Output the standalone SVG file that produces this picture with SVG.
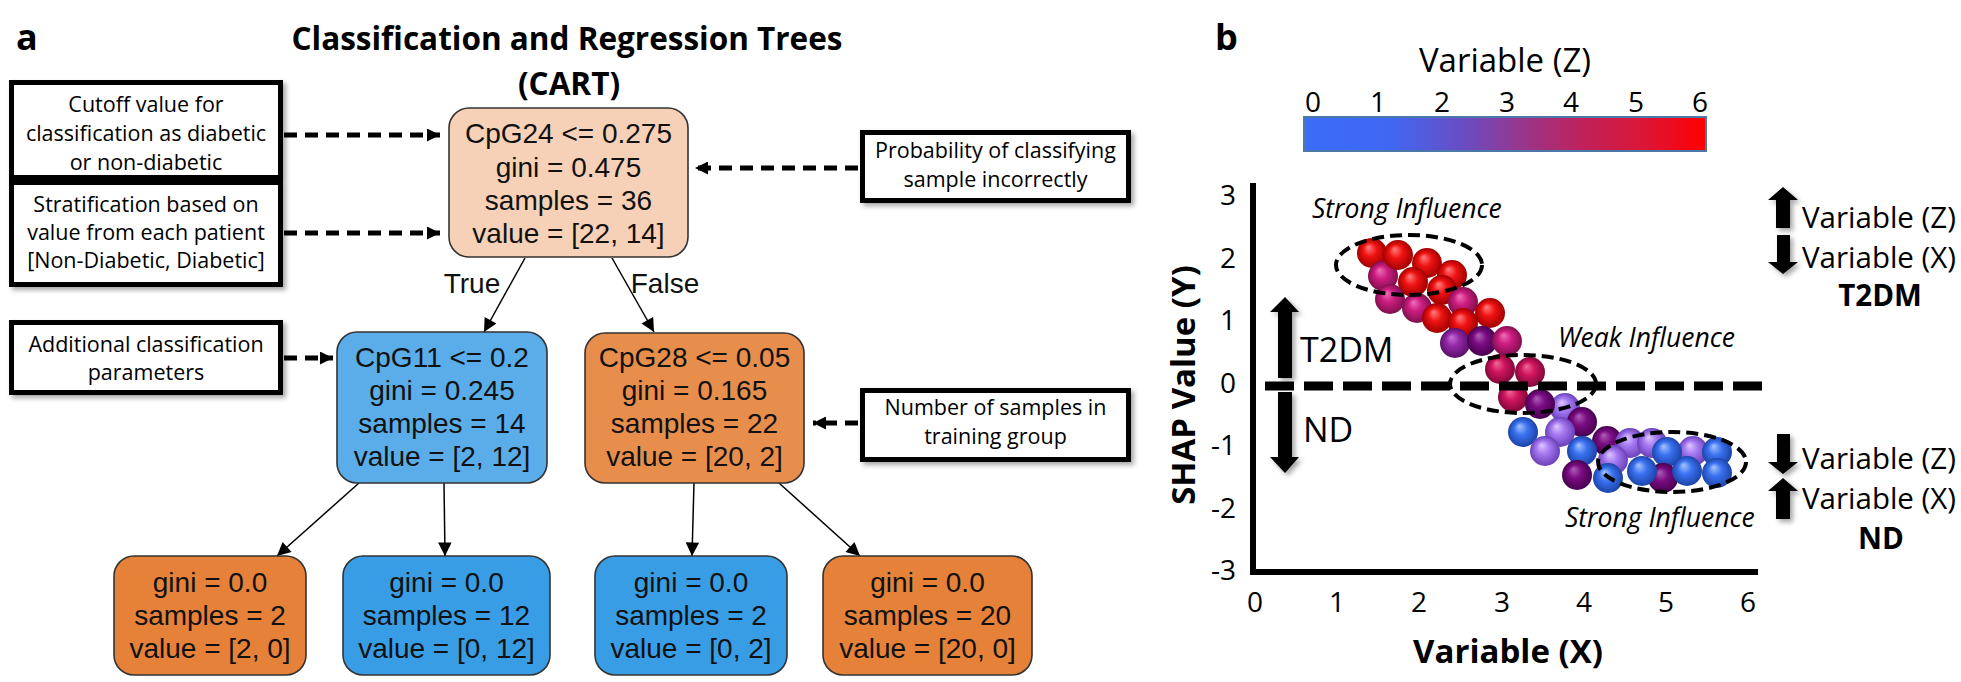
<svg xmlns="http://www.w3.org/2000/svg" width="1961" height="682" viewBox="0 0 1961 682">
<style>
.tn{font-family:"Liberation Sans",Arial,sans-serif;font-size:28px;fill:#111;text-anchor:middle}
.node{stroke:#333;stroke-width:1.6}
.cb{fill:#fff;stroke:#000;stroke-width:5}
.ct{font-family:"Open Sans","Noto Sans",sans-serif;font-size:21.5px;fill:#000;text-anchor:middle}
.dash{stroke:#000;stroke-width:5;stroke-dasharray:13 8;fill:none}
.edge{stroke:#000;stroke-width:1.5;fill:none}
.os{font-family:"Open Sans","Noto Sans",sans-serif;fill:#000}
.b{font-weight:bold}
.tick{font-size:28px}
.ell{fill:none;stroke:#000;stroke-width:4;stroke-dasharray:12 6}
.inf{font-size:26.5px;font-style:italic}
</style>
<defs>
<filter id="sh" x="-20%" y="-20%" width="150%" height="150%">
<feDropShadow dx="3" dy="3" stdDeviation="2.5" flood-color="#000" flood-opacity="0.35"/>
</filter>
<marker id="ah" viewBox="0 0 10 10" refX="10" refY="5" markerWidth="3" markerHeight="2.6" orient="auto" markerUnits="strokeWidth">
<path d="M0,0 L10,5 L0,10 z" fill="#000"/>
</marker>
<marker id="te" viewBox="0 0 10 10" refX="10" refY="5" markerWidth="12" markerHeight="9" orient="auto" markerUnits="strokeWidth">
<path d="M0,0 L10,5 L0,10 z" fill="#000"/>
</marker>
<linearGradient id="cbar" x1="0" x2="1" y1="0" y2="0">
<stop offset="0" stop-color="#3b6cf8"/>
<stop offset="0.22" stop-color="#4067f2"/>
<stop offset="0.4" stop-color="#6a4cc2"/>
<stop offset="0.55" stop-color="#9a3588"/>
<stop offset="0.7" stop-color="#c02158"/>
<stop offset="0.85" stop-color="#dc1535"/>
<stop offset="1" stop-color="#ff0000"/>
</linearGradient>
<radialGradient id="gR" cx="0.5" cy="0.5" r="0.5" fx="0.38" fy="0.3"><stop offset="0" stop-color="#ff8080"/><stop offset="0.45" stop-color="#f01212"/><stop offset="1" stop-color="#a00000"/></radialGradient>
<radialGradient id="gM" cx="0.5" cy="0.5" r="0.5" fx="0.38" fy="0.3"><stop offset="0" stop-color="#f070b8"/><stop offset="0.45" stop-color="#cc1c80"/><stop offset="1" stop-color="#80104e"/></radialGradient>
<radialGradient id="gC" cx="0.5" cy="0.5" r="0.5" fx="0.38" fy="0.3"><stop offset="0" stop-color="#f06a98"/><stop offset="0.45" stop-color="#d0155e"/><stop offset="1" stop-color="#82083a"/></radialGradient>
<radialGradient id="gP" cx="0.5" cy="0.5" r="0.5" fx="0.38" fy="0.3"><stop offset="0" stop-color="#c870d8"/><stop offset="0.45" stop-color="#9228a8"/><stop offset="1" stop-color="#5a1068"/></radialGradient>
<radialGradient id="gD" cx="0.5" cy="0.5" r="0.5" fx="0.38" fy="0.3"><stop offset="0" stop-color="#b060b8"/><stop offset="0.45" stop-color="#7a0c82"/><stop offset="1" stop-color="#480050"/></radialGradient>
<radialGradient id="gL" cx="0.5" cy="0.5" r="0.5" fx="0.38" fy="0.3"><stop offset="0" stop-color="#e0c8ff"/><stop offset="0.45" stop-color="#a478f0"/><stop offset="1" stop-color="#6a40b8"/></radialGradient>
<radialGradient id="gB" cx="0.5" cy="0.5" r="0.5" fx="0.38" fy="0.3"><stop offset="0" stop-color="#a8c4ff"/><stop offset="0.45" stop-color="#3a72f0"/><stop offset="1" stop-color="#1c44a8"/></radialGradient>
</defs>
<rect width="1961" height="682" fill="#fff"/>

<!-- Panel a -->
<g id="panel-a-labels">
<text class="os b" x="16" y="50" font-size="36">a</text>
<text class="os b" x="567" y="50" font-size="31.5" text-anchor="middle">Classification and Regression Trees</text>
<text class="os b" x="569" y="95" font-size="31.5" text-anchor="middle">(CART)</text>
</g>

<g id="connectors">
<line class="edge" x1="525" y1="258" x2="484" y2="332" marker-end="url(#te)"/>
<line class="edge" x1="612" y1="258" x2="654" y2="332" marker-end="url(#te)"/>
<line class="edge" x1="359" y1="483" x2="277" y2="556" marker-end="url(#te)"/>
<line class="edge" x1="444" y1="483" x2="445" y2="556" marker-end="url(#te)"/>
<line class="edge" x1="694" y1="483" x2="692" y2="556" marker-end="url(#te)"/>
<line class="edge" x1="779" y1="483" x2="860" y2="556" marker-end="url(#te)"/>
<line class="dash" x1="284" y1="135" x2="440" y2="135" marker-end="url(#ah)"/>
<line class="dash" x1="284" y1="233" x2="440" y2="233" marker-end="url(#ah)"/>
<line class="dash" x1="284" y1="358" x2="333" y2="358" marker-end="url(#ah)"/>
<line class="dash" x1="858" y1="168" x2="695" y2="168" marker-end="url(#ah)"/>
<line class="dash" x1="858" y1="423" x2="813" y2="423" marker-end="url(#ah)"/>
</g>
<text class="tn" x="472" y="293">True</text>
<text class="tn" x="665" y="293">False</text>

<g id="node-root">
<rect class="node" x="449" y="108" width="239" height="149" rx="20" fill="#f6d1b7"/>
<text class="tn" x="568.5" y="143">CpG24 &lt;= 0.275</text>
<text class="tn" x="568.5" y="177">gini = 0.475</text>
<text class="tn" x="568.5" y="210">samples = 36</text>
<text class="tn" x="568.5" y="243">value = [22, 14]</text>
</g>
<g id="node-cpg11">
<rect class="node" x="337" y="332" width="210" height="151" rx="20" fill="#5aade9"/>
<text class="tn" x="442" y="367">CpG11 &lt;= 0.2</text>
<text class="tn" x="442" y="400">gini = 0.245</text>
<text class="tn" x="442" y="433">samples = 14</text>
<text class="tn" x="442" y="466">value = [2, 12]</text>
</g>
<g id="node-cpg28">
<rect class="node" x="585" y="333" width="219" height="150" rx="20" fill="#e88e4d"/>
<text class="tn" x="694.5" y="367">CpG28 &lt;= 0.05</text>
<text class="tn" x="694.5" y="400">gini = 0.165</text>
<text class="tn" x="694.5" y="433">samples = 22</text>
<text class="tn" x="694.5" y="466">value = [20, 2]</text>
</g>
<g id="leaf-1">
<rect class="node" x="114" y="556" width="192" height="119" rx="20" fill="#e58139"/>
<text class="tn" x="210" y="592">gini = 0.0</text>
<text class="tn" x="210" y="625">samples = 2</text>
<text class="tn" x="210" y="658">value = [2, 0]</text>
</g>
<g id="leaf-2">
<rect class="node" x="343" y="556" width="207" height="119" rx="20" fill="#399de5"/>
<text class="tn" x="446.5" y="592">gini = 0.0</text>
<text class="tn" x="446.5" y="625">samples = 12</text>
<text class="tn" x="446.5" y="658">value = [0, 12]</text>
</g>
<g id="leaf-3">
<rect class="node" x="595" y="556" width="192" height="119" rx="20" fill="#399de5"/>
<text class="tn" x="691" y="592">gini = 0.0</text>
<text class="tn" x="691" y="625">samples = 2</text>
<text class="tn" x="691" y="658">value = [0, 2]</text>
</g>
<g id="leaf-4">
<rect class="node" x="823" y="556" width="209" height="119" rx="20" fill="#e58139"/>
<text class="tn" x="927.5" y="592">gini = 0.0</text>
<text class="tn" x="927.5" y="625">samples = 20</text>
<text class="tn" x="927.5" y="658">value = [20, 0]</text>
</g>

<g id="note-cutoff">
<rect class="cb" x="11.5" y="82.5" width="269" height="95" filter="url(#sh)"/>
<text class="ct" x="146" y="112">Cutoff value for</text>
<text class="ct" x="146" y="141">classification as diabetic</text>
<text class="ct" x="146" y="170">or non-diabetic</text>
</g>
<g id="note-strat">
<rect class="cb" x="11.5" y="182.5" width="269" height="102" filter="url(#sh)"/>
<text class="ct" x="146" y="212">Stratification based on</text>
<text class="ct" x="146" y="240">value from each patient</text>
<text class="ct" x="146" y="268">[Non-Diabetic, Diabetic]</text>
</g>
<g id="note-additional">
<rect class="cb" x="11.5" y="322.5" width="269" height="70" filter="url(#sh)"/>
<text class="ct" x="146" y="352">Additional classification</text>
<text class="ct" x="146" y="380">parameters</text>
</g>
<g id="note-prob">
<rect class="cb" x="862.5" y="132.5" width="266" height="68" filter="url(#sh)"/>
<text class="ct" x="995.5" y="158">Probability of classifying</text>
<text class="ct" x="995.5" y="187">sample incorrectly</text>
</g>
<g id="note-samples">
<rect class="cb" x="862.5" y="390.5" width="266" height="69" filter="url(#sh)"/>
<text class="ct" x="995.5" y="415">Number of samples in</text>
<text class="ct" x="995.5" y="444">training group</text>
</g>

<!-- Panel b -->
<g id="panel-b">
<text class="os b" x="1215" y="50" font-size="36">b</text>
<text class="os" x="1505" y="72" font-size="33" text-anchor="middle">Variable (Z)</text>
<g id="colorbar">
<rect x="1304" y="117" width="402" height="34" fill="url(#cbar)" stroke="#4a78a8" stroke-width="2"/>
<g class="os tick" text-anchor="middle">
<text x="1313" y="112">0</text><text x="1378" y="112">1</text><text x="1442" y="112">2</text><text x="1507" y="112">3</text><text x="1571" y="112">4</text><text x="1636" y="112">5</text><text x="1700" y="112">6</text>
</g>
</g>
<g id="axes">
<path d="M1253,183 V572 H1758" fill="none" stroke="#000" stroke-width="6"/>
<g class="os tick" text-anchor="end">
<text x="1236" y="205">3</text><text x="1236" y="268">2</text><text x="1236" y="330">1</text><text x="1236" y="393">0</text><text x="1236" y="455">-1</text><text x="1236" y="518">-2</text><text x="1236" y="580">-3</text>
</g>
<g class="os tick" text-anchor="middle">
<text x="1255" y="612">0</text><text x="1337" y="612">1</text><text x="1419" y="612">2</text><text x="1502" y="612">3</text><text x="1584" y="612">4</text><text x="1666" y="612">5</text><text x="1748" y="612">6</text>
</g>
<text class="os b" x="1508" y="663" font-size="33" text-anchor="middle">Variable (X)</text>
<text class="os b" font-size="33" text-anchor="middle" transform="translate(1195,385) rotate(-90)">SHAP Value (Y)</text>
</g>

<g id="spheres">
<circle cx="1372" cy="253" r="15" fill="url(#gR)"/>
<circle cx="1383" cy="276" r="15" fill="url(#gM)"/>
<circle cx="1398" cy="255" r="15" fill="url(#gR)"/>
<circle cx="1427" cy="263" r="15" fill="url(#gR)"/>
<circle cx="1452" cy="275" r="15" fill="url(#gR)"/>
<circle cx="1413" cy="282" r="15" fill="url(#gR)"/>
<circle cx="1442" cy="290" r="15" fill="url(#gR)"/>
<circle cx="1390" cy="299" r="15" fill="url(#gM)"/>
<circle cx="1463" cy="302" r="15" fill="url(#gM)"/>
<circle cx="1417" cy="308" r="15" fill="url(#gM)"/>
<circle cx="1490" cy="313" r="15" fill="url(#gR)"/>
<circle cx="1437" cy="318" r="15" fill="url(#gR)"/>
<circle cx="1463" cy="323" r="15" fill="url(#gR)"/>
<circle cx="1455" cy="343" r="15" fill="url(#gP)"/>
<circle cx="1482" cy="341" r="15" fill="url(#gD)"/>
<circle cx="1507" cy="341" r="15" fill="url(#gM)"/>
<circle cx="1500" cy="369" r="15" fill="url(#gC)"/>
<circle cx="1530" cy="372" r="15" fill="url(#gC)"/>
<circle cx="1513" cy="397" r="15" fill="url(#gC)"/>
<circle cx="1565" cy="408" r="15" fill="url(#gL)"/>
<circle cx="1540" cy="404" r="15" fill="url(#gD)"/>
<circle cx="1582" cy="422" r="15" fill="url(#gD)"/>
<circle cx="1523" cy="432" r="15" fill="url(#gB)"/>
<circle cx="1560" cy="432" r="15" fill="url(#gL)"/>
<circle cx="1607" cy="441" r="15" fill="url(#gD)"/>
<circle cx="1630" cy="443" r="15" fill="url(#gL)"/>
<circle cx="1652" cy="443" r="15" fill="url(#gL)"/>
<circle cx="1693" cy="451" r="15" fill="url(#gL)"/>
<circle cx="1545" cy="451" r="15" fill="url(#gL)"/>
<circle cx="1582" cy="451" r="15" fill="url(#gB)"/>
<circle cx="1667" cy="452" r="15" fill="url(#gB)"/>
<circle cx="1717" cy="452" r="15" fill="url(#gB)"/>
<circle cx="1613" cy="460" r="15" fill="url(#gL)"/>
<circle cx="1577" cy="475" r="15" fill="url(#gD)"/>
<circle cx="1663" cy="478" r="15" fill="url(#gD)"/>
<circle cx="1608" cy="478" r="15" fill="url(#gB)"/>
<circle cx="1642" cy="471" r="15" fill="url(#gB)"/>
<circle cx="1687" cy="471" r="15" fill="url(#gB)"/>
<circle cx="1717" cy="473" r="15" fill="url(#gB)"/>
</g>

<line x1="1265" y1="386" x2="1763" y2="386" stroke="#000" stroke-width="9" stroke-dasharray="29 10"/>
<ellipse class="ell" cx="1409" cy="265" rx="73" ry="30"/>
<ellipse class="ell" cx="1523" cy="384" rx="73" ry="29"/>
<ellipse class="ell" cx="1672" cy="462" rx="74" ry="30"/>

<text class="os inf" x="1312" y="218">Strong Influence</text>
<text class="os inf" x="1558" y="347">Weak Influence</text>
<text class="os inf" x="1565" y="527">Strong Influence</text>

<g id="t2dm-nd-arrow" filter="url(#sh)">
<polygon points="1285,297 1299,312 1292,312 1292,378 1278,378 1278,312 1270,312"/>
<polygon points="1278,392 1292,392 1292,457 1299,457 1285,473 1270,457 1278,457"/>
</g>
<text class="os" x="1300" y="362" font-size="34">T2DM</text>
<text class="os" x="1303" y="442" font-size="34">ND</text>

<g id="legend-t2dm">
<g filter="url(#sh)">
<polygon points="1783,187 1798,200 1790,200 1790,228 1776,228 1776,200 1768,200"/>
<polygon points="1777,235 1790,235 1790,262 1798,262 1783,274 1768,262 1777,262"/>
</g>
<text class="os" x="1802" y="228" font-size="29.5">Variable (Z)</text>
<text class="os" x="1802" y="268" font-size="29.5">Variable (X)</text>
<text class="os b" x="1880" y="306" font-size="29.5" text-anchor="middle">T2DM</text>
</g>
<g id="legend-nd">
<g filter="url(#sh)">
<polygon points="1777,434 1790,434 1790,462 1798,462 1783,474 1768,462 1777,462"/>
<polygon points="1783,478 1798,491 1790,491 1790,519 1776,519 1776,491 1768,491"/>
</g>
<text class="os" x="1802" y="469" font-size="29.5">Variable (Z)</text>
<text class="os" x="1802" y="509" font-size="29.5">Variable (X)</text>
<text class="os b" x="1881" y="549" font-size="29.5" text-anchor="middle">ND</text>
</g>
</g>
</svg>
